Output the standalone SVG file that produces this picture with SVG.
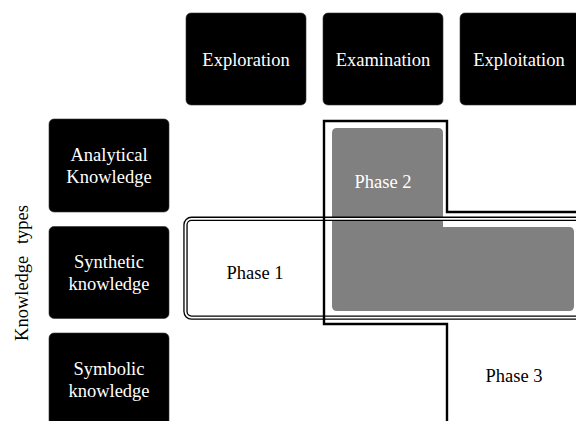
<svg xmlns="http://www.w3.org/2000/svg" width="576" height="421" viewBox="0 0 576 421">
<style>
.box{fill:#000;stroke:#333;stroke-width:0.6}
.lbl{font-size:18.5px;text-anchor:middle}
.w{fill:#fff}
.k{fill:#000}
</style>
<rect width="576" height="421" fill="#fff"/>
<g font-family="'Liberation Serif', 'Times New Roman', Times, serif">
<g id="phase2-fill">
<path d="M 337 128 H 438 Q 443 128 443 133 V 227 H 569 Q 574 227 574 232 V 306 Q 574 311 569 311 H 337 Q 332 311 332 306 V 133 Q 332 128 337 128 Z" fill="#808080"/>
</g>
<g id="phase1">
<rect x="185.5" y="218.8" width="440" height="98.8" rx="6" fill="none" stroke="#000" stroke-width="4.4"/>
<rect x="185.5" y="218.8" width="440" height="98.8" rx="6" fill="none" stroke="#fff" stroke-width="1.8"/>
<text class="lbl k" x="255" y="279">Phase 1</text>
</g>
<g id="connectors">
<path d="M 576 212 H 447 V 121 H 324 V 324 H 447 V 421" fill="none" stroke="#000" stroke-width="2.4"/>
</g>
<g id="phase2"><text class="lbl w" x="383" y="188">Phase 2</text></g>
<g id="phase3"><text class="lbl k" x="514" y="382">Phase 3</text></g>
<g id="exploration">
<rect class="box" x="186" y="13" width="120" height="92" rx="5"/>
<text class="lbl w" x="246" y="65.5">Exploration</text>
</g>
<g id="examination">
<rect class="box" x="323" y="13" width="120" height="92" rx="5"/>
<text class="lbl w" x="383" y="65.5">Examination</text>
</g>
<g id="exploitation">
<rect class="box" x="460" y="13" width="120" height="92" rx="5"/>
<text class="lbl w" x="519" y="65.5">Exploitation</text>
</g>
<g id="analytical">
<rect class="box" x="49" y="119" width="120" height="93" rx="5"/>
<text class="lbl w" x="109" y="161">Analytical</text>
<text class="lbl w" x="109" y="183">Knowledge</text>
</g>
<g id="synthetic">
<rect class="box" x="49" y="226.5" width="120" height="92" rx="5"/>
<text class="lbl w" x="109" y="268">Synthetic</text>
<text class="lbl w" x="109" y="290">knowledge</text>
</g>
<g id="symbolic">
<rect class="box" x="49" y="333" width="120" height="95" rx="5"/>
<text class="lbl w" x="109" y="375">Symbolic</text>
<text class="lbl w" x="109" y="397">knowledge</text>
</g>
<g id="axis">
<text class="lbl k" transform="translate(28 273) rotate(-90)" x="0" y="0" word-spacing="7">Knowledge types</text>
</g>
</g>
</svg>
